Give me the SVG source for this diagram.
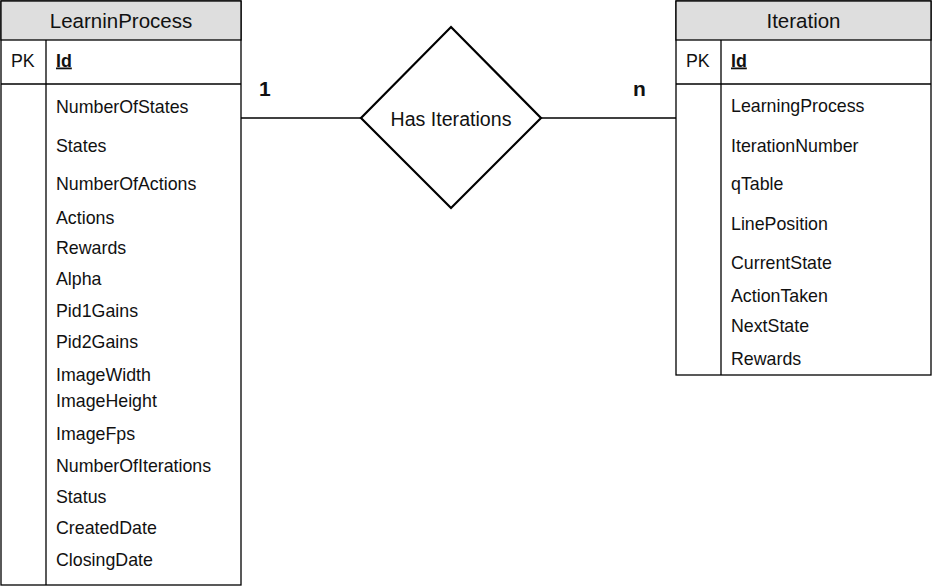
<svg xmlns="http://www.w3.org/2000/svg" width="932" height="587" viewBox="0 0 932 587">
<style>
text{font-family:"Liberation Sans",Arial,sans-serif;fill:#111}
.title{font-size:20.5px;text-anchor:middle}
.f{font-size:17.8px}
.pk{font-size:17.8px;font-weight:bold;text-decoration:underline}
.card{font-size:21px;font-weight:bold}
.box{fill:#fff;stroke:#000;stroke-width:1.3}
.hdr{fill:#dedede;stroke:#000;stroke-width:1.3}
.ln{stroke:#000;stroke-width:1.3;fill:none}
</style>
<rect width="932" height="587" fill="#fff"/>
<g id="connectors">
<line class="ln" x1="241" y1="118" x2="361" y2="118"/>
<line class="ln" x1="541" y1="118" x2="676" y2="118"/>
<text class="card" x="259" y="96">1</text>
<text class="card" x="633" y="96">n</text>
</g>
<g id="LearninProcess">
<rect class="box" x="1" y="1" width="240" height="584"/>
<rect class="hdr" x="1" y="1" width="240" height="39"/>
<line class="ln" x1="1" y1="84" x2="241" y2="84"/>
<line class="ln" x1="46" y1="40" x2="46" y2="585"/>
<text class="title" x="121" y="28">LearninProcess</text>
<text class="f" x="11" y="66.5">PK</text>
<text class="pk" x="56" y="66.5">Id</text>
<text class="f" x="56" y="112.5">NumberOfStates</text>
<text class="f" x="56" y="151.5">States</text>
<text class="f" x="56" y="190">NumberOfActions</text>
<text class="f" x="56" y="224">Actions</text>
<text class="f" x="56" y="254">Rewards</text>
<text class="f" x="56" y="285">Alpha</text>
<text class="f" x="56" y="316.5">Pid1Gains</text>
<text class="f" x="56" y="347.5">Pid2Gains</text>
<text class="f" x="56" y="380.5">ImageWidth</text>
<text class="f" x="56" y="406.5">ImageHeight</text>
<text class="f" x="56" y="439.5">ImageFps</text>
<text class="f" x="56" y="471.5">NumberOfIterations</text>
<text class="f" x="56" y="502.5">Status</text>
<text class="f" x="56" y="534">CreatedDate</text>
<text class="f" x="56" y="565.5">ClosingDate</text>
</g>
<g id="HasIterations">
<polygon points="451,27 541,118 451,208 361,118" fill="#fff" stroke="#000" stroke-width="2.2" stroke-linejoin="miter"/>
<text x="451" y="126" font-size="19.6px" text-anchor="middle">Has Iterations</text>
</g>
<g id="Iteration">
<rect class="box" x="676" y="1" width="255" height="374"/>
<rect class="hdr" x="676" y="1" width="255" height="39"/>
<line class="ln" x1="676" y1="84" x2="931" y2="84"/>
<line class="ln" x1="721" y1="40" x2="721" y2="375"/>
<text class="title" x="803.5" y="28">Iteration</text>
<text class="f" x="686" y="66.5">PK</text>
<text class="pk" x="731" y="66.5">Id</text>
<text class="f" x="731" y="112">LearningProcess</text>
<text class="f" x="731" y="151.5">IterationNumber</text>
<text class="f" x="731" y="190">qTable</text>
<text class="f" x="731" y="230">LinePosition</text>
<text class="f" x="731" y="269">CurrentState</text>
<text class="f" x="731" y="301.5">ActionTaken</text>
<text class="f" x="731" y="331.5">NextState</text>
<text class="f" x="731" y="365">Rewards</text>
</g>
</svg>
